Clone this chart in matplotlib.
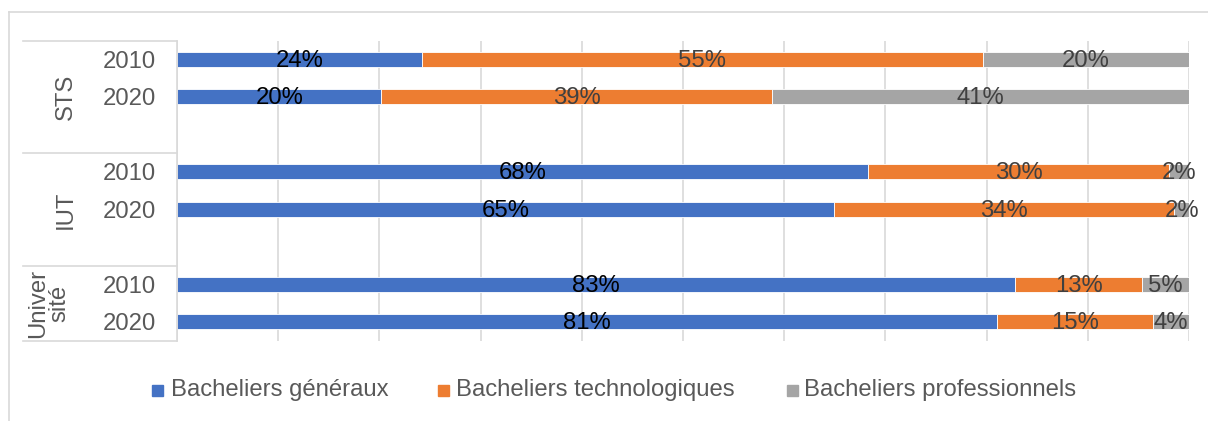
import matplotlib
matplotlib.use("Agg")
import matplotlib.pyplot as plt
from matplotlib.lines import Line2D
from matplotlib.patches import Rectangle

plt.rcParams['font.family'] = ['Liberation Sans', 'DejaVu Sans']

groups = ["STS", "IUT", "Univer\nsité"]
years = ["2010", "2020"]
series = ["Bacheliers généraux", "Bacheliers technologiques", "Bacheliers professionnels"]
colors = ["#4472C4", "#ED7D31", "#A5A5A5"]
label_colors = ["#000000", "#404040", "#404040"]

# rows: STS 2010, STS 2020, IUT 2010, IUT 2020, Univ 2010, Univ 2020
generaux = [24.2, 20.2, 68.3, 64.9, 82.8, 81.0]
technologiques = [55.4, 38.6, 29.7, 33.6, 12.6, 15.4]
professionnels = [20.4, 41.2, 2.0, 1.6, 4.6, 3.6]
values = [generaux, technologiques, professionnels]

FS = 17.2
W, H = 1208, 421
fig = plt.figure(figsize=(W / 100, H / 100), dpi=100)
ax = fig.add_axes([177 / W, 1 - 340.7 / H, 1012 / W, 300 / H])

# slot positions: each group has 3 slots (2 years + blank)
slots = []
for g in range(len(groups)):
    for y in range(len(years)):
        slots.append(g * 3 + y)

grid_c = "#D9D9D9"
ax.set_xlim(0, 100)
ax.set_ylim(7.5, -0.5)
ax.set_xticks(range(0, 101, 10))
ax.set_xticklabels([])
ax.tick_params(axis='x', length=0)
ax.tick_params(axis='y', length=0)
ax.grid(axis='x', color=grid_c, linewidth=1.2)
ax.set_axisbelow(True)
for s in ["top", "right", "bottom"]:
    ax.spines[s].set_visible(False)
ax.spines["left"].set_color(grid_c)
ax.spines["left"].set_linewidth(1.2)

left = [0.0] * len(slots)
for i, (vals, col, lc) in enumerate(zip(values, colors, label_colors)):
    bars = ax.barh(slots, vals, left=left, height=0.4, color=col,
                   edgecolor="white", linewidth=0.6, label=series[i], zorder=2)
    for b, v in zip(bars, vals):
        ax.text(b.get_x() + b.get_width() / 2, b.get_y() + b.get_height() / 2 + 0.03,
                f"{v:.0f}%", ha="center", va="center", fontsize=FS,
                color=lc, zorder=3)
    left = [l + v for l, v in zip(left, vals)]

# year tick labels
ax.set_yticks(slots)
ax.set_yticklabels(years * len(groups), fontsize=FS, color="#595959")
ax.tick_params(axis='y', pad=15)

# group separators and group labels
trans = ax.get_yaxis_transform()
xl = (22.7 - 177) / 1012
for yv in [-0.5, 2.5, 5.5, 7.5]:
    ax.plot([xl, 0], [yv, yv], transform=trans, color=grid_c, lw=1.2,
            clip_on=False, zorder=1)
centers = [1.0, 4.0, 6.5]
xg = [(66 - 177) / 1012, (66 - 177) / 1012, (49 - 177) / 1012]
for g, c, xx in zip(groups, centers, xg):
    ax.text(xx, c, g, transform=trans, rotation=90, ha="center", va="center",
            fontsize=FS, color="#595959", linespacing=0.95,
            multialignment="center")

# chart border
fig.add_artist(Line2D([9 / W, 9 / W], [0, 1 - 11.5 / H], color=grid_c, lw=1.2))
fig.add_artist(Line2D([9 / W, 1], [1 - 11.5 / H, 1 - 11.5 / H], color=grid_c, lw=1.2))

# legend
leg_y = 1 - 390 / H
sq_x = [152, 438, 787]
tx_x = [171, 456, 804]
for s, c, sx, tx in zip(series, colors, sq_x, tx_x):
    fig.add_artist(Rectangle((sx / W, leg_y - 5.5 / H), 11 / W, 11 / H,
                             color=c, transform=fig.transFigure))
    fig.text(tx / W, leg_y, s, ha="left", va="center", fontsize=FS,
             color="#595959")

fig.savefig("out.png", dpi=100)
